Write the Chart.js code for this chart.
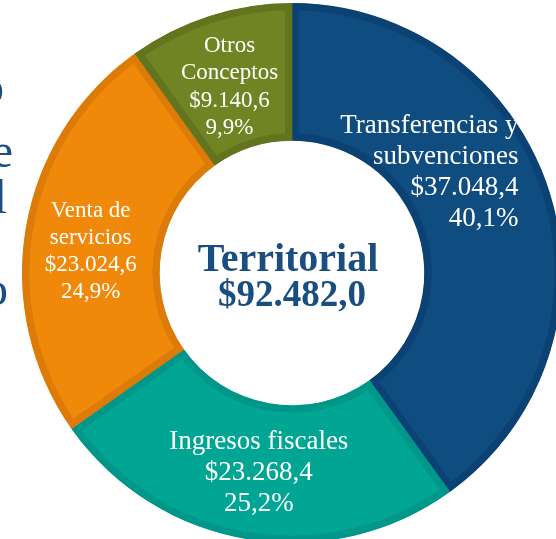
<!DOCTYPE html>
<html>
<head>
<meta charset="utf-8">
<script src="https://cdn.jsdelivr.net/npm/chart.js@4"></script>
<style>
  html, body { margin: 0; padding: 0; background: #fff; overflow: hidden; }
  #wrap { width: 600px; height: 560px; }
</style>
</head>
<body>
<div id="wrap"><canvas id="ingresosChart" width="600" height="560"></canvas></div>
<script>
// ---- data ----
const categories = [
    ["Transferencias y", "subvenciones"],
    ["Ingresos fiscales"],
    ["Venta de", "servicios"],
    ["Otros", "Conceptos"]
];
const values = [37048.4, 23268.4, 23024.6, 9140.6];
const centerTitle = "Territorial";

// ---- styles ----
const fillColors = ["#0F4C7F", "#00A693", "#F0880A", "#718424"];
const borderColors = ["#0C4273", "#00978A", "#DC7B08", "#62741E"];
const labelFont = [27, 27, 23, 23];
const labelLine = [31, 31, 27, 27.5];
const labelShift = [[35, -41], [0, 0], [-3, 10], [-1, 4]];
const labelAlign = ["right", "center", "center", "center"];
const serif = '"Liberation Serif", "Times New Roman", serif';

function fmt(n) {
    const parts = n.toFixed(1).split(".");
    return parts[0].replace(/\B(?=(\d{3})+(?!\d))/g, ".") + "," + parts[1];
}

const total = values.reduce((a, b) => a + b, 0);

// labels drawn on each slice
const sliceLabels = {
    id: "sliceLabels",
    afterDatasetsDraw(chart) {
        const ctx = chart.ctx;
        const meta = chart.getDatasetMeta(0);
        meta.data.forEach((arc, i) => {
            const p = arc.tooltipPosition();
            const lines = categories[i].concat([
                "$" + fmt(values[i]),
                (values[i] / total * 100).toFixed(1).replace(".", ",") + "%"
            ]);
            const size = labelFont[i];
            const lh = labelLine[i];
            const x = p.x + labelShift[i][0];
            const cy = p.y + labelShift[i][1];
            ctx.save();
            ctx.fillStyle = "#ffffff";
            ctx.font = size + "px " + serif;
            ctx.textAlign = labelAlign[i];
            ctx.textBaseline = "alphabetic";
            const top = cy - (lines.length - 1) * lh / 2;
            lines.forEach((t, k) => {
                ctx.fillText(t, x, top + k * lh + size * 0.33);
            });
            ctx.restore();
        });
    }
};

// title in the hole + cut-off text at the left edge
const centerText = {
    id: "centerText",
    afterDraw(chart) {
        const ctx = chart.ctx;
        const arc = chart.getDatasetMeta(0).data[0];
        ctx.save();
        ctx.fillStyle = "#1A4E80";
        ctx.textAlign = "center";
        ctx.font = "bold 40px " + serif;
        ctx.fillText(centerTitle, arc.x - 4, arc.y - 2);
        ctx.font = "bold 37px " + serif;
        ctx.fillText("$" + fmt(total), arc.x, arc.y + 33);

        ctx.font = "48px " + serif;
        ctx.textAlign = "right";
        ctx.fillText("o", 4, 103);
        ctx.fillText("e", 13, 167);
        ctx.fillText("l", 7, 213);
        ctx.fillText("o", 8, 305);
        ctx.restore();
    }
};

new Chart(document.getElementById("ingresosChart"), {
    type: "doughnut",
    data: {
        labels: categories,
        datasets: [{
            data: values,
            backgroundColor: fillColors,
            borderColor: borderColors,
            borderWidth: 7,
            borderAlign: "inner"
        }]
    },
    options: {
        responsive: false,
        animation: false,
        cutout: "49%",
        layout: { padding: { left: 22, top: 3, right: 38, bottom: 17 } },
        plugins: {
            legend: { display: false },
            tooltip: { enabled: false }
        }
    },
    plugins: [sliceLabels, centerText]
});
</script>
</body>
</html>
